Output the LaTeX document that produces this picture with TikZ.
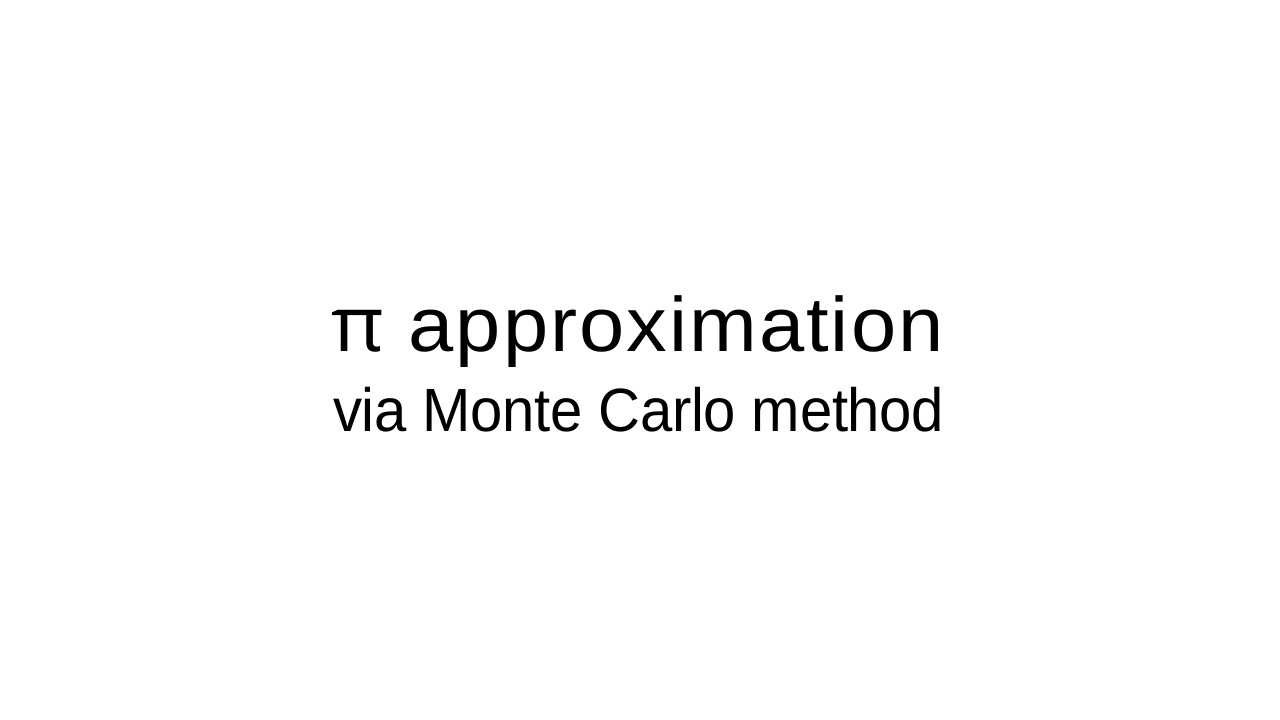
\documentclass[tikz,border=0pt]{standalone}
\usepackage{fontspec}
\setmainfont{Liberation Sans}
\newfontfamily\titlefont[LetterSpace=2.5]{Liberation Sans}
\newfontfamily\subfont[LetterSpace=-0.5]{Liberation Sans}
\newfontfamily\pifont{Open Sans}
\begin{document}
\begin{tikzpicture}[x=1bp,y=1bp,
  titletext/.style={anchor=base,inner sep=0pt,text=black,xscale=1.055,font=\titlefont\fontsize{58}{64}\selectfont},
  subtext/.style={anchor=base,inner sep=0pt,text=black,xscale=0.95,font=\subfont\fontsize{46}{52}\selectfont}]
\useasboundingbox[fill=white] (0,0) rectangle (960,540);
\node[titletext] (title) at (478,276) {{\pifont\fontsize{58}{64}\selectfont π} approximation};
\node[subtext] (sub) at (479,216) {via Monte Carlo method};
\end{tikzpicture}
\end{document}
